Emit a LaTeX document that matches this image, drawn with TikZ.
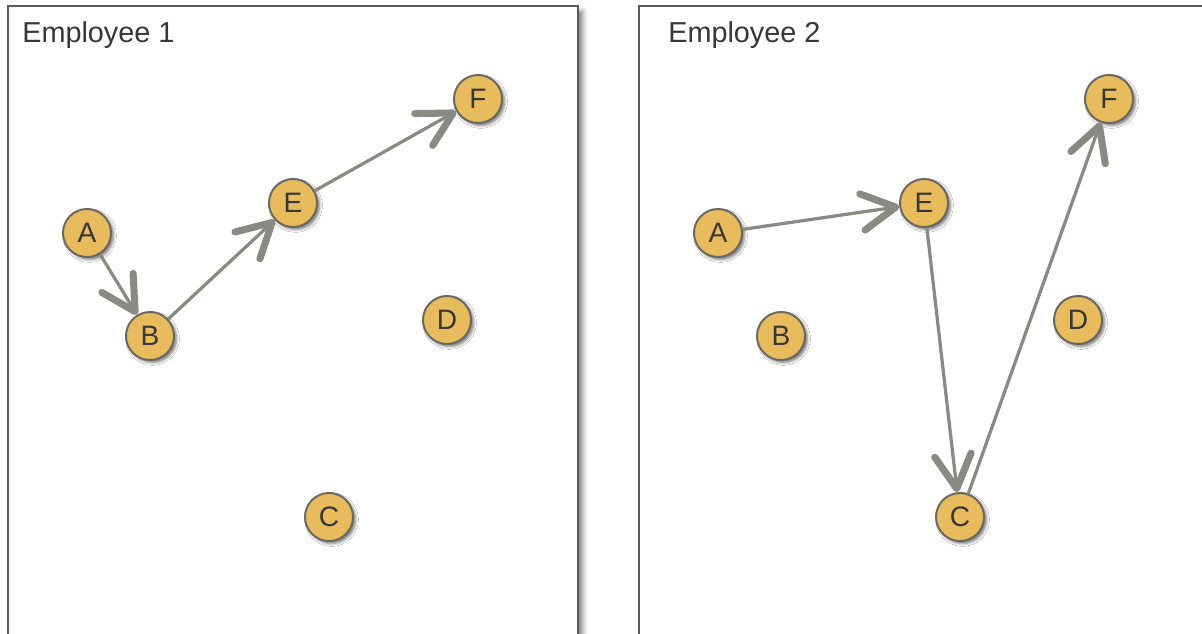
\documentclass[tikz,border=0pt]{standalone}
\usepackage{fontspec}
\setmainfont{Liberation Sans}
\usetikzlibrary{arrows.meta,shadows.blur}

\definecolor{nodefill}{RGB}{232,188,92}
\definecolor{nodeedge}{RGB}{104,104,96}
\definecolor{routegray}{RGB}{137,138,130}
\definecolor{framegray}{RGB}{92,92,92}
\definecolor{inkgray}{RGB}{55,55,55}

\tikzset{
  panel/.style={draw=framegray, line width=1.3pt, fill=white,
    blur shadow={shadow xshift=3pt, shadow yshift=-4pt, shadow blur radius=4pt, shadow opacity=55}},
  paneltitle/.style={anchor=base west, inner sep=0pt, text=inkgray, font=\fontsize{20.5}{20.5}\selectfont},
  station/.style={circle, minimum size=1.2cm, inner sep=0pt, fill=nodefill, draw=nodeedge,
    line width=1.4pt, text=inkgray, font=\fontsize{20}{20}\selectfont,
    blur shadow={shadow xshift=1.8pt, shadow yshift=-1.8pt, shadow blur radius=2pt, shadow opacity=55}},
  route/.style={routegray, line width=2.3pt,
    -{Straight Barb[length=24pt, width=26pt, line width=5pt, round]}}
}

\begin{document}
\begin{tikzpicture}[x=0.025cm, y=-0.025cm]
\useasboundingbox (0,0) rectangle (1202,633);
\clip (0,0) rectangle (1202,633);
% two panels with the same six stations
\foreach \p/\dx/\tx in {1/0/22,2/631/668} {
  \draw[panel] (8+\dx,6) rectangle (578+\dx,680);
  \node[paneltitle] (title\p) at (\tx,42) {Employee \p};
  \foreach \n/\x/\y in {A/87/233,B/150/336,C/329/517,D/447/320,E/293/203,F/478/99}
    \node[station] (\n\p) at (\x+\dx,\y) {\n};
}
% routes of employee 1
\draw[route] (A1) -- (B1);
\draw[route] (B1) -- (E1);
\draw[route] (E1) -- (F1);
% routes of employee 2
\draw[route] (A2) -- (E2);
\draw[route] (E2) -- (C2);
\draw[route] (C2) -- (F2);
\end{tikzpicture}
\end{document}
